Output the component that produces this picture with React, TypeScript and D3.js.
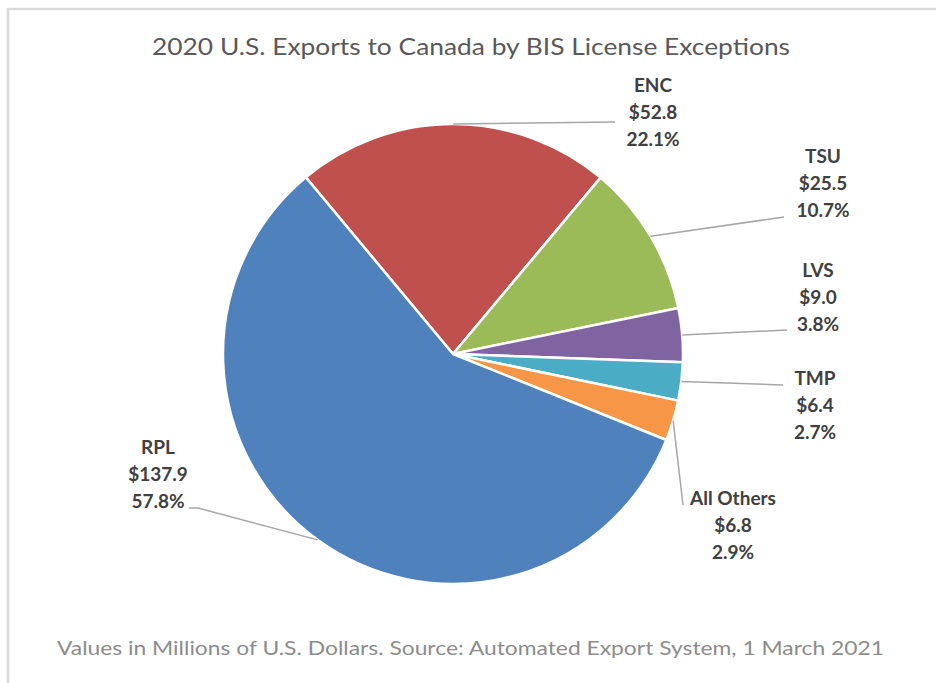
import React from "react";
import * as d3 from "d3";

const categories = ["ENC", "TSU", "LVS", "TMP", "All Others", "RPL"];
const values = [52.8, 25.5, 9.0, 6.4, 6.8, 137.9];
const colors = ["#c0504d", "#9bbb59", "#8064a2", "#4bacc6", "#f79646", "#4f81bd"];

// label layout: block centre x, first baseline y, leader end points
const labelLayout = [
  { cx: 653, y0: 92, leader: [[615, 122]] },
  { cx: 823, y0: 163, leader: [[784, 217]] },
  { cx: 818, y0: 277, leader: [[787, 330]] },
  { cx: 815, y0: 385, leader: [[783, 385]] },
  { cx: 733, y0: 505, leader: [[683, 505]] },
  { cx: 158, y0: 454, leader: [[198, 508], [189, 508]] },
];

const W = 936;
const H = 683;
const CX = 453;
const CY = 354;
const R = 230;
const START = (-39.8 * Math.PI) / 180;
const FONT = "Lato, 'Open Sans', sans-serif";

export default function App() {
  const total = d3.sum(values);
  const data = categories.map((c, i) => ({ c, v: values[i], i }));
  const pie = d3
    .pie<any>()
    .sort(null)
    .value((d: any) => d.v)
    .startAngle(START)
    .endAngle(START + 2 * Math.PI);
  const arcs = pie(data);
  const arc = d3.arc<any>().innerRadius(0).outerRadius(R);
  const lineGen = d3.line();

  return (
    <svg
      width={W}
      height={H}
      style={{ position: "absolute", left: 0, top: 0, background: "#fff" }}
    >
      <rect x={0} y={0} width={W} height={H} fill="#fff" />
      <line x1={7} y1={9} x2={W} y2={9} stroke="#d9d9d9" strokeWidth={2.5} />
      <line x1={8} y1={8} x2={8} y2={H} stroke="#d9d9d9" strokeWidth={2.5} />
      <text
        x={471}
        y={55}
        textAnchor="middle"
        fontFamily={FONT}
        fontSize={23}
        fill="#595959"
        textLength={638}
        lengthAdjust="spacingAndGlyphs"
      >
        2020 U.S. Exports to Canada by BIS License Exceptions
      </text>
      <g transform={`translate(${CX},${CY})`}>
        {arcs.map((a: any) => (
          <path
            key={a.data.c}
            d={arc(a) as string}
            fill={colors[a.data.i]}
            stroke="#fff"
            strokeWidth={2.5}
            strokeLinejoin="round"
          />
        ))}
      </g>
      {arcs.map((a: any) => {
        const mid = (a.startAngle + a.endAngle) / 2;
        const sx = CX + R * Math.sin(mid);
        const sy = CY - R * Math.cos(mid);
        const lay = labelLayout[a.data.i];
        const pts: [number, number][] = [[sx, sy], ...(lay.leader as [number, number][])];
        return (
          <path
            key={"l" + a.data.c}
            d={lineGen(pts) as string}
            fill="none"
            stroke="#a6a6a6"
            strokeWidth={1.5}
          />
        );
      })}
      {data.map((d) => {
        const lay = labelLayout[d.i];
        const lines = [d.c, "$" + d.v.toFixed(1), ((d.v / total) * 100).toFixed(1) + "%"];
        return (
          <text
            key={"t" + d.c}
            textAnchor="middle"
            fontFamily={FONT}
            fontWeight="bold"
            fontSize={19}
            fill="#404040"
          >
            {lines.map((t, k) => (
              <tspan key={k} x={lay.cx} y={lay.y0 + k * 27}>
                {t}
              </tspan>
            ))}
          </text>
        );
      })}
      <text
        x={470.5}
        y={655}
        textAnchor="middle"
        fontFamily={FONT}
        fontSize={20}
        fill="#8c8c8c"
        textLength={827}
        lengthAdjust="spacingAndGlyphs"
      >
        Values in Millions of U.S. Dollars. Source: Automated Export System, 1 March 2021
      </text>
    </svg>
  );
}
